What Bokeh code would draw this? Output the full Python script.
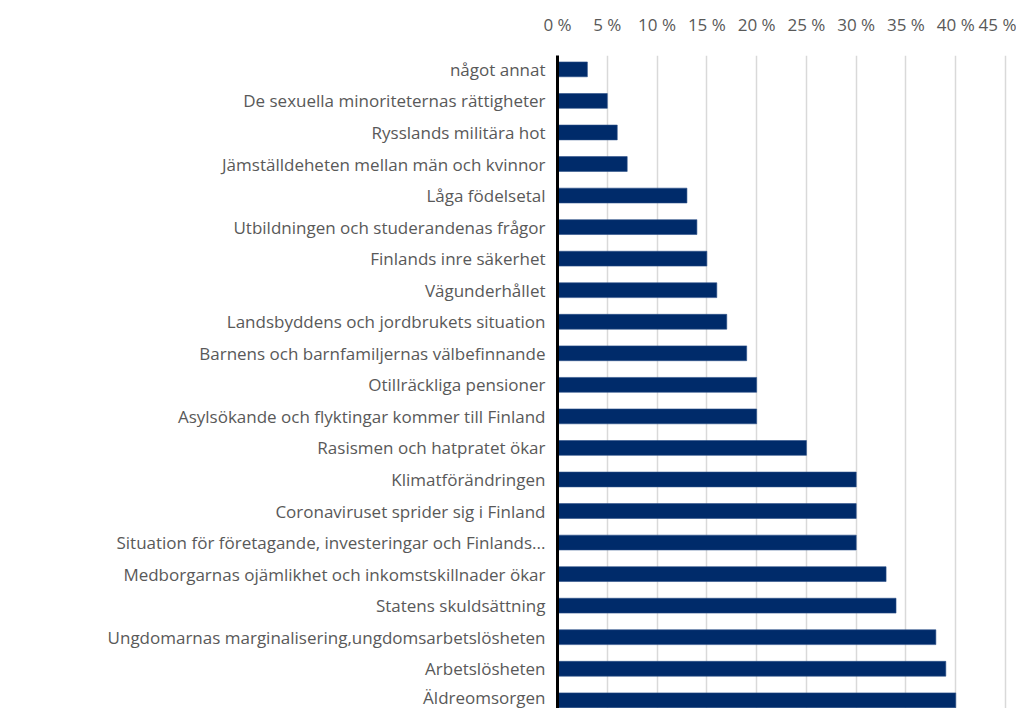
from bokeh.plotting import figure
from bokeh.models import Range1d, FixedTicker, ColumnDataSource
from bokeh.embed import file_html
from bokeh.resources import INLINE

categories = [
    "något annat",
    "De sexuella minoriteternas rättigheter",
    "Rysslands militära hot",
    "Jämställdeheten mellan män och kvinnor",
    "Låga födelsetal",
    "Utbildningen och studerandenas frågor",
    "Finlands inre säkerhet",
    "Vägunderhållet",
    "Landsbyddens och jordbrukets situation",
    "Barnens och barnfamiljernas välbefinnande",
    "Otillräckliga pensioner",
    "Asylsökande och flyktingar kommer till Finland",
    "Rasismen och hatpratet ökar",
    "Klimatförändringen",
    "Coronaviruset sprider sig i Finland",
    "Situation för företagande, investeringar och Finlands...",
    "Medborgarnas ojämlikhet och inkomstskillnader ökar",
    "Statens skuldsättning",
    "Ungdomarnas marginalisering,ungdomsarbetslösheten",
    "Arbetslösheten",
    "Äldreomsorgen",
]
values = [3, 5, 6, 7, 13, 14, 15, 16, 17, 19, 20, 20, 25, 30, 30, 30, 33, 34, 38, 39, 40]
tick_values = [0, 5, 10, 15, 20, 25, 30, 35, 40, 45]
tick_labels = ["0 %", "5 %", "10 %", "15 %", "20 %", "25 %", "30 %", "35 %", "40 %", "45 %"]

positions = list(range(len(categories)))
src = ColumnDataSource(dict(y=positions, value=values, cat=categories))

FONT = "Open Sans"
TEXT_COLOR = "#595959"

p = figure(
    width=1016, height=708,
    output_backend="svg", toolbar_location=None,
    x_axis_location="above",
    x_range=Range1d(0, 46),
    y_range=Range1d(20.26, -0.44),
    min_border_left=557, min_border_right=1,
    min_border_top=55, min_border_bottom=0,
)

p.hbar(y="y", left=0, right="value", height=0.47, source=src,
       fill_color="#002B6A", line_color="#2a4f88", line_width=0.6)

# x axis (top)
xa = p.xaxis[0]
xa.ticker = FixedTicker(ticks=tick_values)
xa.major_label_overrides = {v: l for v, l in zip(tick_values, tick_labels)}
xa.axis_line_color = None
xa.major_tick_line_color = None
xa.minor_tick_line_color = None
xa.major_label_standoff = 14
xa.major_label_text_font = FONT
xa.major_label_text_font_size = "17px"
xa.major_label_text_color = TEXT_COLOR

# y axis (left)
ya = p.yaxis[0]
ya.ticker = FixedTicker(ticks=positions)
ya.major_label_overrides = {i: c for i, c in zip(positions, categories)}
ya.axis_line_color = "black"
ya.axis_line_width = 3
ya.major_tick_line_color = None
ya.minor_tick_line_color = None
ya.major_label_standoff = 6
ya.major_label_text_font = FONT
ya.major_label_text_font_size = "17px"
ya.major_label_text_color = TEXT_COLOR

p.xgrid.ticker = FixedTicker(ticks=tick_values[1:])
p.xgrid.grid_line_color = "#d9d9d9"
p.xgrid.grid_line_width = 1.5
p.ygrid.grid_line_color = None
p.outline_line_color = None
p.background_fill_color = "white"
p.border_fill_color = "white"

open("out.html", "w").write(file_html(p, INLINE))
